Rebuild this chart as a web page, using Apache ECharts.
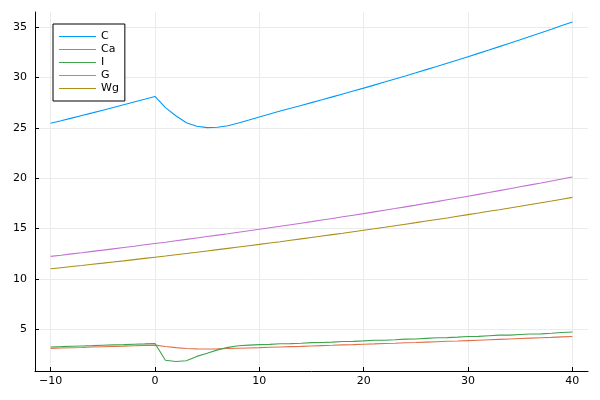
<!DOCTYPE html>
<html>
<head>
<meta charset="utf-8">
<script src="https://cdn.jsdelivr.net/npm/echarts@6/dist/echarts.min.js"></script>
<style>html,body{margin:0;padding:0;background:#fff}#c{width:600px;height:400px}</style>
</head>
<body>
<div id="c"></div>
<script>
const xs = [-10,-9,-8,-7,-6,-5,-4,-3,-2,-1,0,1,2,3,4,5,6,7,8,9,10,11,12,13,14,15,16,17,18,19,20,21,22,23,24,25,26,27,28,29,30,31,32,33,34,35,36,37,38,39,40];
const seriesNames = ['C','Ca','I','G','Wg'];
const C = [25.45,25.70,25.96,26.22,26.48,26.75,27.02,27.29,27.56,27.83,28.11,
  27.00,26.20,25.50,25.15,25.02,25.06,25.20,25.48,25.77,26.07,26.37,
  26.67,26.94,27.22,27.50,27.78,28.07,28.36,28.65,28.94,29.24,29.54,29.85,30.15,30.46,30.78,31.09,31.41,31.73,32.06,32.39,32.72,33.06,33.40,33.74,34.09,34.44,34.79,35.15,35.51];
const Ca = [3.10,3.13,3.16,3.19,3.23,3.26,3.29,3.32,3.36,3.39,3.42,
  3.28,3.17,3.09,3.05,3.03,
  3.05,3.08,3.11,3.14,3.17,3.21,3.24,3.27,3.30,3.34,3.37,3.40,3.44,3.47,3.51,3.54,3.58,3.61,3.65,3.68,3.72,3.76,3.80,3.83,3.87,3.91,3.95,3.99,4.03,4.07,4.11,4.15,4.19,4.24,4.28];
const I = [3.24,3.27,3.31,3.34,3.37,3.41,3.44,3.47,3.51,3.54,3.58,
  1.92,1.80,1.87,2.30,2.62,2.95,3.20,3.36,3.42,
  3.47,3.49,3.55,3.57,3.61,3.67,3.68,3.72,3.78,3.79,3.84,3.90,3.91,3.96,4.02,4.03,4.09,4.15,4.16,4.21,4.28,4.29,4.35,4.41,4.41,4.47,4.53,4.54,4.60,4.67,4.73];
const G = [12.23,12.35,12.48,12.60,12.73,12.85,12.98,13.11,13.24,13.38,13.51,13.64,13.78,13.92,14.06,14.20,14.34,14.48,14.63,14.78,14.92,15.07,15.22,15.38,15.53,15.68,15.84,16.00,16.16,16.32,16.48,16.65,16.82,16.98,17.15,17.32,17.50,17.67,17.85,18.03,18.21,18.39,18.57,18.76,18.95,19.14,19.33,19.52,19.72,19.91,20.11];
const Wg = [11.00,11.11,11.22,11.33,11.45,11.56,11.68,11.79,11.91,12.03,12.15,12.27,12.40,12.52,12.64,12.77,12.90,13.03,13.16,13.29,13.42,13.56,13.69,13.83,13.97,14.11,14.25,14.39,14.53,14.68,14.83,14.97,15.12,15.28,15.43,15.58,15.74,15.90,16.05,16.22,16.38,16.54,16.71,16.87,17.04,17.21,17.39,17.56,17.73,17.91,18.09];
const xTicks = [-10,0,10,20,30,40];
const yTicks = [5,10,15,20,25,30,35];

const colors = ['#009AFA','#E36F47','#3EA44E','#C371D2','#AC8E18'];
const values = [C, Ca, I, G, Wg];
const font = 'DejaVu Sans';

const chart = echarts.init(document.getElementById('c'), null, {renderer:'canvas'});
chart.setOption({
  animation: false,
  backgroundColor: '#fff',
  grid: {left: 35, right: 12, top: 12, bottom: 29, containLabel: false},
  xAxis: {
    type: 'value', min: -11.5, max: 41.5,
    axisLine: {show: true, onZero: false, lineStyle: {color: '#000', width: 1}},
    axisTick: {show: true, inside: true, length: 4, customValues: xTicks, lineStyle: {color: '#000'}},
    axisLabel: {customValues: xTicks, margin: 5, color: '#000', fontFamily: font, fontSize: 11,
      formatter: v => (v < 0 ? '\u2212' + Math.abs(v) : String(v))},
    splitLine: {show: true, lineStyle: {color: '#ebebeb', width: 1}}
  },
  yAxis: {
    type: 'value', min: 0.85, max: 36.5,
    axisLine: {show: true, onZero: false, lineStyle: {color: '#000', width: 1}},
    axisTick: {show: true, inside: true, length: 4, customValues: yTicks, lineStyle: {color: '#000'}},
    axisLabel: {customValues: yTicks, margin: 8, color: '#000', fontFamily: font, fontSize: 11},
    splitLine: {show: true, lineStyle: {color: '#ebebeb', width: 1}}
  },
  legend: {
    orient: 'vertical', left: 53, top: 24,
    backgroundColor: '#fff', borderColor: '#000', borderWidth: 1,
    padding: [6, 6, 6, 6], itemGap: 0, itemWidth: 37, itemHeight: 13,
    textStyle: {fontFamily: font, fontSize: 11, color: '#000', lineHeight: 13, padding: [0,0,0,0]},
    data: seriesNames.map((n, i) => ({name: n, icon: 'path://M0,6.5L37,6.5L37,7.5L0,7.5Z'}))
  },
  series: seriesNames.map((n, i) => ({
    name: n, type: 'line', showSymbol: false, symbol: 'none',
    color: colors[i],
    lineStyle: {width: 1.1, color: colors[i]},
    data: xs.map((x, j) => [x, values[i][j]])
  }))
});
</script>
</body>
</html>
